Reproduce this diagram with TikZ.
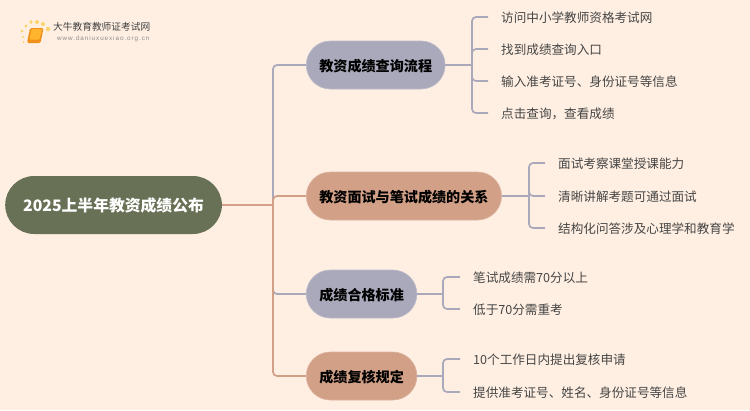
\documentclass[tikz,border=0pt]{standalone}
\usepackage{fontspec}
\setmainfont{Noto Sans CJK SC}
\newfontfamily\urlfont[LetterSpace=15]{Liberation Sans}
\definecolor{paper}{HTML}{FFEFE2}
\definecolor{slate}{HTML}{A9A9BB}
\definecolor{clay}{HTML}{D2A086}
\definecolor{moss}{HTML}{687056}
\definecolor{leafink}{HTML}{454545}
\definecolor{bookdark}{HTML}{F0901A}
\definecolor{booklight}{HTML}{FFB52E}
\definecolor{spark}{HTML}{FBD36B}
\tikzstyle{rootnode}=[rectangle, rounded corners=29pt, fill=moss, text=white, font=\fontsize{15.8}{20}\selectfont\bfseries
,minimum height=58pt, inner xsep=18pt, inner ysep=0pt, anchor=west
]
\tikzstyle{branch}=[rectangle, rounded corners=24pt, font=\fontsize{14.1}{17}\selectfont\bfseries, text=black
,minimum height=48pt, inner xsep=13pt, inner ysep=0pt, anchor=west, text height=12.6pt, text depth=0pt
]
\tikzstyle{leaf}=[font=\fontsize{12.6}{15}\selectfont, text=leafink, inner xsep=13pt, inner ysep=2pt, anchor=west, text height=11.4pt, text depth=0pt]
\tikzstyle{edge} = [draw,line width=1.7pt,-,rounded corners=4pt]
\begin{document}
\begin{tikzpicture}[x=1pt,y=-1pt]
    \fill[paper] (0,0) rectangle (750,410);
    \useasboundingbox (0,0) rectangle (750,410);

    % the logo
    \foreach \x/\y/\r in {22/31/1.5, 26/26/1.7, 31/22/1.9, 37/22/2, 43/24/2, 48/29/2.2, 23/37/1.2, 23.5/42/1}
        \fill[spark] (\x,\y) circle (\r);
    \fill[bookdark, rounded corners=1.5pt] (30,28) -- (43.5,28) -- (40.5,43) -- (27,43) -- cycle;
    \fill[booklight, rounded corners=1pt] (31.5,29) -- (42,29) -- (39.5,39.5) -- (29.5,39.5) -- cycle;
    \node[anchor=west, inner sep=0pt, text=black!75, font=\fontsize{9.7}{11}\selectfont] (logoname) at (53,27) {大牛教育教师证考试网};
    \node[anchor=west, inner sep=0pt, text=black!45, font=\fontsize{6.3}{7}\urlfont] (logourl) at (57,39) {www.daniuxuexiao.org.cn};

    % First we draw the nodes
    \node[rootnode] (root) at (5,205) {2025上半年教资成绩公布};
    \foreach \pos/\name/\colr/\txt in {{(306,65)/b1/slate/教资成绩查询流程}, {(306,196)/b2/clay/教资面试与笔试成绩的关系}, {(306,294)/b3/slate/成绩合格标准}, {(306,376)/b4/clay/成绩复核规定}}
        \node[branch, fill=\colr, draw=\colr!80!white, line width=.6pt] (\name) at \pos {\txt};
    \foreach \pos/\name/\txt in {{(488,17)/l11/访问中小学教师资格考试网}, {(488,49)/l12/找到成绩查询入口}, {(488,81)/l13/输入准考证号、身份证号等信息}, {(488,113)/l14/点击查询，查看成绩},
        {(545,163)/l21/面试考察课堂授课能力}, {(545,196)/l22/清晰讲解考题可通过面试}, {(545,228)/l23/结构化问答涉及心理学和教育学},
        {(460,277)/l31/笔试成绩需70分以上}, {(460,309)/l32/低于70分需重考},
        {(460,359)/l41/10个工作日内提出复核申请}, {(460,392)/l42/提供准考证号、姓名、身份证号等信息}}
        \node[leaf] (\name) at \pos {\txt};

    % the junctions
    \coordinate (trunk) at (273,205);
    \coordinate (j1) at (472,65);
    \coordinate (j2) at (529,196);
    \coordinate (j3) at (443,294);
    \coordinate (j4) at (443,376);

    % Connect the nodes with edges
    \foreach \source/\dest/\colr in {trunk/b1/slate, trunk/b3/slate, trunk/b2/clay, trunk/b4/clay}
        \path[edge, draw=\colr] (\source) |- (\dest.west);
    \path[edge, draw=clay] (root.east) -- (trunk);
    \foreach \source/\dest in {j1/l11, j1/l12, j1/l13, j1/l14, j2/l21, j2/l22, j2/l23, j3/l31, j3/l32, j4/l41, j4/l42}
        \path[edge, draw=slate] (\source) |- (\dest.west);
    \foreach \source/\dest in {b1/j1, b2/j2, b3/j3, b4/j4}
        \path[edge, draw=slate] (\source.east) -- (\dest);
\end{tikzpicture}
\end{document}
